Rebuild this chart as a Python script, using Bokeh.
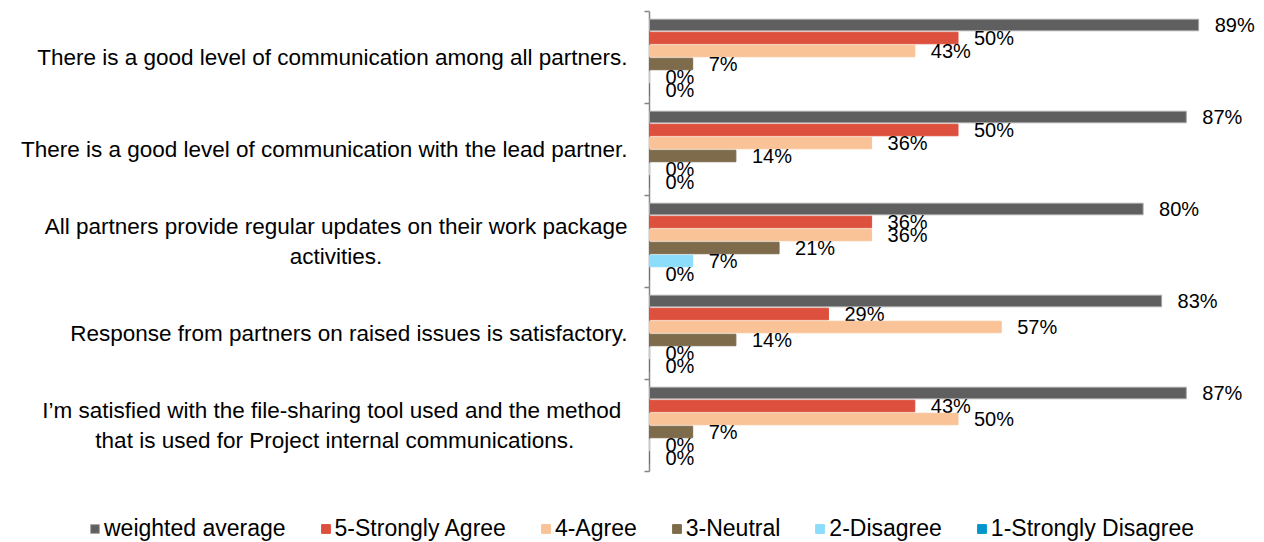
from bokeh.plotting import figure
from bokeh.models import ColumnDataSource, Range1d, Legend, LegendItem
from bokeh.core.properties import value
from bokeh.embed import file_html
from bokeh.resources import INLINE

categories = [
    "There is a good level of communication among all partners.",
    "There is a good level of communication with the lead partner.",
    "All partners provide regular updates on their work package\nactivities.",
    "Response from partners on raised issues is satisfactory.",
    "I\u2019m satisfied with the file-sharing tool used  and the method\nthat is used for Project internal communications.",
]
series_names = ["weighted average", "5-Strongly Agree", "4-Agree", "3-Neutral", "2-Disagree", "1-Strongly Disagree"]
weighted_average = [89, 87, 80, 83, 87]
strongly_agree = [50, 50, 36, 29, 43]
agree = [43, 36, 36, 57, 50]
neutral = [7, 14, 21, 14, 7]
disagree = [0, 0, 7, 0, 0]
strongly_disagree = [0, 0, 0, 0, 0]
series_values = [weighted_average, strongly_agree, agree, neutral, disagree, strongly_disagree]
colors = ["#5f5f5f", "#dc503d", "#f9c397", "#7e6b4c", "#8cdcfb", "#0095cc"]

FONT = "Liberation Sans"
W, H = 1264, 542
AXIS_X = 649      # screen x of the value axis
TOP = 11          # screen y of the first group's top
GROUP_PX = 92     # pixels per category group
PX_PER_PCT = 6.17
n = len(categories)
pitch = 0.1413
bar_h = 0.125

x_range = Range1d(-AXIS_X / PX_PER_PCT, (W - AXIS_X) / PX_PER_PCT)
y_range = Range1d((H - TOP) / GROUP_PX, -TOP / GROUP_PX)

p = figure(width=W, height=H, output_backend="svg", toolbar_location=None,
           x_range=x_range, y_range=y_range,
           min_border_left=0, min_border_right=0, min_border_top=0, min_border_bottom=0)
p.outline_line_color = None
p.grid.visible = False
p.axis.visible = False
p.background_fill_color = "white"
p.border_fill_color = "white"

# value axis line with boundary ticks
p.segment(x0=[0], y0=[0], x1=[0], y1=[n], line_color="#868686", line_width=1.5)
p.ray(x=[0] * (n + 1), y=list(range(n + 1)), length=5, length_units="screen",
      angle=180, angle_units="deg", line_color="#868686", line_width=1.5)

# category labels
cat_src = ColumnDataSource(dict(x=[0] * n, y=[i + 0.5 for i in range(n)], t=categories))
try:
    p.text(x="x", y="y", text="t", source=cat_src, x_offset=-22, anchor="center_right",
           text_align="center", text_baseline="middle", text_font=value(FONT),
           text_font_size="22.5px", text_color="#000000", text_line_height=1.18)
except Exception:
    p.text(x="x", y="y", text="t", source=cat_src, x_offset=-22,
           text_align="right", text_baseline="middle", text_font=value(FONT),
           text_font_size="22.5px", text_color="#000000", text_line_height=1.18)

items = []
for k, (name, vals, col) in enumerate(zip(series_names, series_values, colors)):
    ys = [i + 0.5 + (k - 2.5) * pitch for i in range(n)]
    src = ColumnDataSource(dict(y=ys, v=vals, lab=[f"{v}%" for v in vals]))
    r = p.hbar(y="y", left=0, right="v", height=bar_h, source=src, fill_color=col,
               line_color="#a6a6a6" if k == 0 else col, line_width=1)
    p.text(x="v", y="y", text="lab", source=src, x_offset=16, y_offset=0,
           text_align="left", text_baseline="middle", text_font=value(FONT),
           text_font_size="20px", text_color="#000000")
    items.append(LegendItem(label=name, renderers=[r]))

legend = Legend(items=items, orientation="horizontal", location=(89, 0),
                label_text_font=FONT, label_text_font_size="23px", label_text_color="#000000",
                glyph_width=11, glyph_height=11, label_standoff=4, spacing=34,
                padding=0, margin=0, border_line_color=None, background_fill_alpha=0)
p.add_layout(legend, "center")

open("out.html", "w").write(file_html(p, INLINE))
